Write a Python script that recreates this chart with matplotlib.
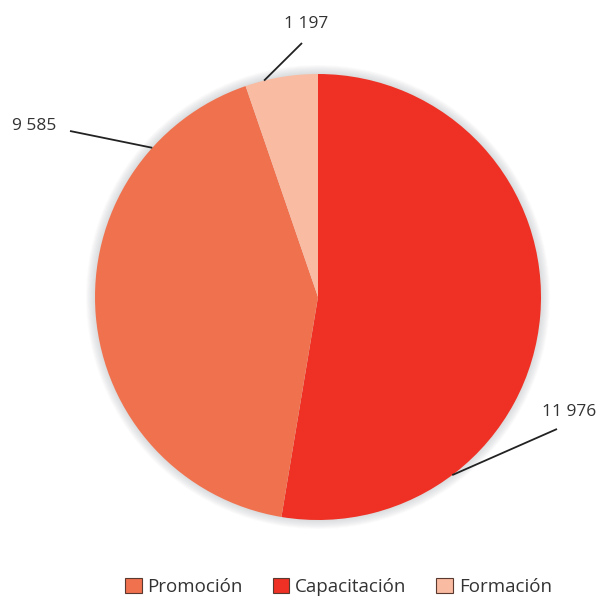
import numpy as np
import matplotlib
matplotlib.use("Agg")
import matplotlib.pyplot as plt
from matplotlib.patches import Circle, Patch

plt.rcParams['font.family'] = ['Open Sans', 'DejaVu Sans']

# Data
pie_labels = ["Capacitación", "Promoción", "Formación"]
pie_values = [11976, 9585, 1197]
value_texts = ["11 976", "9 585", "1 197"]
legend_order = ["Promoción", "Capacitación", "Formación"]
colors = {"Capacitación": "#EE3124", "Promoción": "#F0714E", "Formación": "#F9BBA1"}

W, H = 601, 599
fig = plt.figure(figsize=(W / 100, H / 100), dpi=100)
ax = fig.add_axes([0, 0, 1, 1])

cx, cy, r = 318, H - 297, 223

# soft shadow
for k in range(10, 0, -1):
    ax.add_patch(Circle((cx, cy), r + k * 0.9, color='#6a7078', alpha=0.022, lw=0, zorder=1))

ax.pie(pie_values, colors=[colors[l] for l in pie_labels], startangle=90,
       counterclock=False, center=(cx, cy), radius=r, frame=True,
       wedgeprops=dict(linewidth=0), normalize=True)
for w in ax.patches[-3:]:
    w.set_zorder(2)
ax.set_xlim(0, W)
ax.set_ylim(0, H)
ax.set_aspect('equal')
ax.axis('off')

# labels with leader lines (anchor angle on the rim, text position in pixels)
anchor_angles = [-53, 138, 104]
text_pos = [(569, H - 412), (34, H - 126), (306, H - 24)]
line_end = [(557, H - 429), (70, H - 131), (302, H - 43)]
for txt, ang, tp, le in zip(value_texts, anchor_angles, text_pos, line_end):
    a = np.deg2rad(ang)
    x0, y0 = cx + r * np.cos(a), cy + r * np.sin(a)
    ax.plot([x0, le[0]], [y0, le[1]], color='#222222', lw=1.3, zorder=3,
            solid_capstyle='butt')
    ax.text(tp[0], tp[1], txt, ha='center', va='center', fontsize=12.5,
            color='#333333', zorder=3)

handles = [Patch(facecolor=colors[l], edgecolor='#5a3a30', linewidth=0.8) for l in legend_order]
fig.legend(handles, legend_order, loc='center', bbox_to_anchor=(0.563, 1 - 587 / H),
           ncol=3, frameon=False, fontsize=13.5, handlelength=0.9, handleheight=0.9,
           handletextpad=0.3, columnspacing=1.6, labelcolor='#333333')

fig.savefig("out.png", dpi=100)
